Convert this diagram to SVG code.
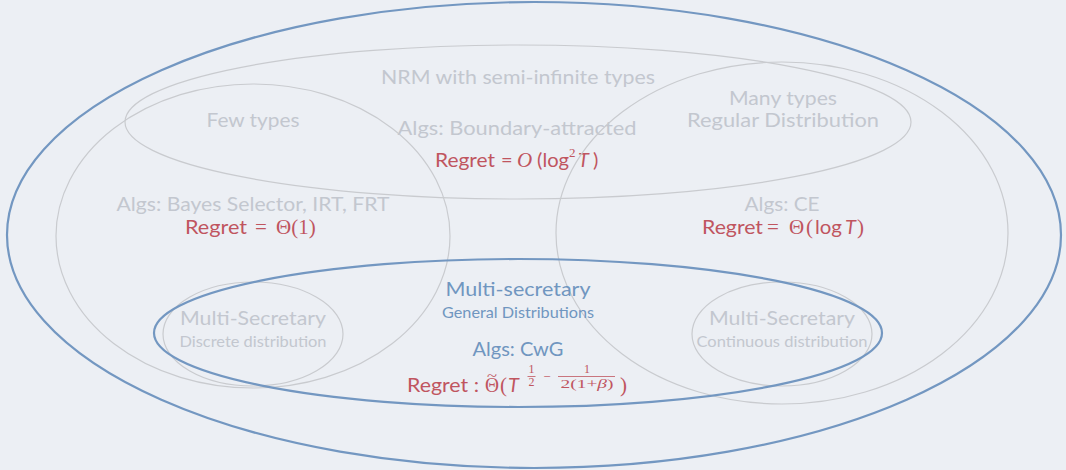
<svg xmlns="http://www.w3.org/2000/svg" width="1066" height="470" viewBox="0 0 1066 470">
  <style>
    .bg { fill: #eceff4; }
    .ring { fill: none; stroke: #c9cbcf; stroke-width: 1.2; }
    .ring-blue { fill: none; stroke: #7397c1; stroke-width: 2.2; }
    text { font-family: "Lato", "Open Sans", "Liberation Sans", sans-serif; }
    .lbl { fill: #c3c7cf; font-size: 20px; }
    .lbl-s { fill: #c3c7cf; font-size: 15px; }
    .blue { fill: #7096c0; font-size: 20px; }
    .blue-s { fill: #7096c0; font-size: 15px; }
    .red { fill: #c0555f; font-size: 20px; }
    .math { fill: #c0555f; font-family: "Liberation Serif", "DejaVu Serif", serif; font-size: 21px; }
    .math-s { fill: #c0555f; font-family: "Liberation Serif", "DejaVu Serif", serif; font-size: 12px; }
    .it { font-style: italic; }
    .bar { stroke: #c0555f; stroke-width: 0.8; }
  </style>

  <rect class="bg" x="0" y="0" width="1066" height="470"/>

  <!-- outermost region -->
  <g id="outer">
    <ellipse class="ring-blue" cx="534" cy="235" rx="527" ry="233"/>
  </g>

  <!-- NRM with semi-infinite types -->
  <g id="semi-infinite">
    <ellipse class="ring" cx="518" cy="122" rx="393" ry="77"/>
    <text class="lbl" x="518" y="84" text-anchor="middle" textLength="274" lengthAdjust="spacingAndGlyphs">NRM with semi-infinite types</text>
    <text class="lbl" x="517" y="135" text-anchor="middle" textLength="239" lengthAdjust="spacingAndGlyphs">Algs: Boundary-attracted</text>
    <text class="red" x="435" y="167" textLength="60" lengthAdjust="spacingAndGlyphs">Regret</text>
    <text class="red" x="501" y="167">=</text>
    <text class="math it" x="517" y="167">O</text>
    <text class="red" x="537" y="167" textLength="32" lengthAdjust="spacingAndGlyphs">(log</text>
    <text class="math-s" x="569" y="157" style="font-size:13px">2</text>
    <text class="red it" x="578" y="167">T</text>
    <text class="red" x="593" y="167">)</text>
  </g>

  <!-- few types -->
  <g id="few-types">
    <ellipse class="ring" cx="253" cy="236" rx="197" ry="152"/>
    <text class="lbl" x="253" y="127" text-anchor="middle" textLength="93" lengthAdjust="spacingAndGlyphs">Few types</text>
    <text class="lbl" x="253" y="211" text-anchor="middle" textLength="273" lengthAdjust="spacingAndGlyphs">Algs: Bayes Selector, IRT, FRT</text>
    <text class="red" x="185" y="234" textLength="62" lengthAdjust="spacingAndGlyphs">Regret</text>
    <text class="math" x="255" y="234">=</text>
    <text class="math" x="276" y="234">Θ(1)</text>
  </g>

  <!-- many types -->
  <g id="many-types">
    <ellipse class="ring" cx="782" cy="233" rx="226" ry="171"/>
    <text class="lbl" x="783" y="105" text-anchor="middle" textLength="108" lengthAdjust="spacingAndGlyphs">Many types</text>
    <text class="lbl" x="783" y="127" text-anchor="middle" textLength="192" lengthAdjust="spacingAndGlyphs">Regular Distribution</text>
    <text class="lbl" x="782" y="211" text-anchor="middle" textLength="75" lengthAdjust="spacingAndGlyphs">Algs: CE</text>
    <text class="red" x="702" y="234" textLength="61" lengthAdjust="spacingAndGlyphs">Regret</text>
    <text class="math" x="767" y="234">=</text>
    <text class="math" x="789" y="234">Θ</text>
    <text class="math" x="806" y="234">(</text>
    <text class="red" x="815" y="234" textLength="27" lengthAdjust="spacingAndGlyphs">log</text>
    <text class="red it" x="845" y="234">T</text>
    <text class="math" x="857" y="234">)</text>
  </g>

  <!-- multi-secretary, discrete -->
  <g id="discrete">
    <ellipse class="ring" cx="253" cy="334" rx="90" ry="52"/>
    <text class="lbl" x="253" y="325" text-anchor="middle" textLength="146" lengthAdjust="spacingAndGlyphs">Multi-Secretary</text>
    <text class="lbl-s" x="253" y="347" text-anchor="middle" textLength="147" lengthAdjust="spacingAndGlyphs">Discrete distribution</text>
  </g>

  <!-- multi-secretary, continuous -->
  <g id="continuous">
    <ellipse class="ring" cx="782" cy="334" rx="90" ry="52"/>
    <text class="lbl" x="782" y="325" text-anchor="middle" textLength="146" lengthAdjust="spacingAndGlyphs">Multi-Secretary</text>
    <text class="lbl-s" x="782" y="347" text-anchor="middle" textLength="171" lengthAdjust="spacingAndGlyphs">Continuous distribution</text>
  </g>

  <!-- multi-secretary, general -->
  <g id="general">
    <ellipse class="ring-blue" cx="518" cy="333" rx="364" ry="74"/>
    <text class="blue" x="518" y="296" text-anchor="middle" textLength="145" lengthAdjust="spacingAndGlyphs">Multi-secretary</text>
    <text class="blue-s" x="518" y="318" text-anchor="middle" textLength="152" lengthAdjust="spacingAndGlyphs">General Distributions</text>
    <text class="blue" x="518" y="356" text-anchor="middle" textLength="91" lengthAdjust="spacingAndGlyphs">Algs: CwG</text>
    <text class="red" x="407" y="392" textLength="72" lengthAdjust="spacingAndGlyphs">Regret :</text>
    <!-- Theta with tilde accent -->
    <text class="math" x="485" y="392" textLength="14" lengthAdjust="spacingAndGlyphs">Θ</text>
    <text class="math" x="487" y="381" style="font-size:14px" textLength="10" lengthAdjust="spacingAndGlyphs">~</text>
    <text class="math" x="500" y="392">(</text>
    <text class="red it" x="508" y="392">T</text>
    <text class="math-s" x="531.5" y="373" text-anchor="middle">1</text>
    <line class="bar" x1="527.5" y1="376.5" x2="535.5" y2="376.5"/>
    <text class="math-s" x="531.5" y="386" text-anchor="middle">2</text>
    <text class="math-s" x="547" y="380.5" text-anchor="middle" style="font-size:13px">−</text>
    <text class="math-s" x="587" y="373" text-anchor="middle">1</text>
    <line class="bar" x1="558" y1="376.5" x2="615" y2="376.5"/>
    <text class="math-s" x="587" y="388" text-anchor="middle" textLength="53" lengthAdjust="spacingAndGlyphs">2(1+<tspan class="it">β</tspan>)</text>
    <text class="math" x="620" y="392">)</text>
  </g>
</svg>
